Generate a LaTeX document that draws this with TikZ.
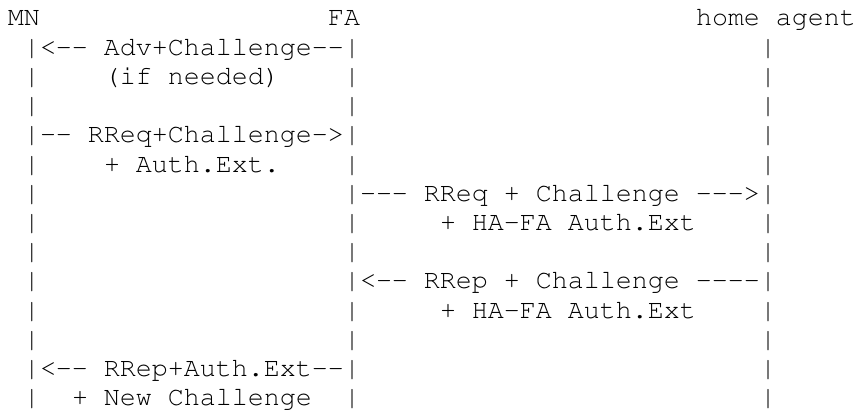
\documentclass[tikz,border=0pt]{standalone}
\usepackage[T1]{fontenc}
\usepackage{tikz}

\tikzset{ascii/.style={font=\fontfamily{pcr}\fontsize{26.66}{29.2}\selectfont,inner sep=0pt,outer sep=0pt,anchor=base west}}

\begin{document}
\begin{tikzpicture}[x=16pt, y=-29.2pt]
        \useasboundingbox (-8pt,26pt) rectangle (848pt,-386pt);

        \node[ascii] (mn) at (0,0) {MN};
        \node[ascii] (fa) at (20,0) {FA};
        \node[ascii] (ha) at (43,0) {home agent};

        %\foreach \r in {1,...,14}
        \foreach \r in {1,...,13} {
            \node[ascii] (mnbar\r) at (1,\r) {|};
            \node[ascii] (fabar\r) at (21,\r) {|};
            \node[ascii] (habar\r) at (47,\r) {|};
        }

        \node[ascii] (adv) at (2,1) {<-{}- Adv+Challenge-{}-};
        \node[ascii] (advnote) at (6,2) {(if needed)};

        \node[ascii] (rreq) at (2,4) {-{}- RReq+Challenge->};
        \node[ascii] (rreqnote) at (6,5) {+ Auth.Ext.};

        \node[ascii] (hareq) at (22,6) {-{}-{}- RReq + Challenge -{}-{}->};
        \node[ascii] (hareqnote) at (27,7) {+ HA-FA Auth.Ext};

        \node[ascii] (harep) at (22,9) {<-{}- RRep + Challenge -{}-{}-{}-};
        \node[ascii] (harepnote) at (27,10) {+ HA-FA Auth.Ext};

        \node[ascii] (rrep) at (2,12) {<-{}- RRep+Auth.Ext-{}-};
        \node[ascii] (rrepnote) at (4,13) {+ New Challenge};
    \end{tikzpicture}
\end{document}
